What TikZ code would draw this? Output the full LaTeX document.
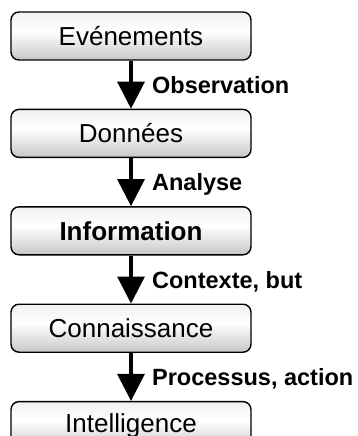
\documentclass[tikz,border=0pt]{standalone}
\usepackage{fontspec}
\setmainfont{Liberation Sans}
\usetikzlibrary{arrows.meta, positioning}

\pgfdeclareverticalshading{stagefill}{100bp}{color(0bp)=(black!30); color(25bp)=(black!22); color(55bp)=(white); color(100bp)=(black!13)}

\tikzset{
    stage/.style={draw=black, line width=1.4pt, rounded corners=8pt,
        shading=stagefill,
        minimum width=240pt, minimum height=48pt, inner sep=0pt,
        font=\fontsize{26}{30}\selectfont},
    flow/.style={line width=3.3pt, -{Triangle[length=27pt,width=27pt]}},
    flowlabel/.style={anchor=base west, inner sep=0pt, xshift=19.5pt, yshift=-8.5pt,
        font=\bfseries\fontsize{23.5}{28}\selectfont}
}

\begin{document}
\begin{tikzpicture}
    % variables
    \pgfmathsetmacro{\vGap}{48}

    \useasboundingbox (0,0) rectangle (358pt,-436pt);

    \node[stage] (evt) at (131pt,-36pt) {Evénements};
    \node[stage, below=\vGap pt of evt] (don) {Données};
    \node[stage, below=\vGap pt of don, font=\bfseries\fontsize{26}{30}\selectfont] (inf) {Information};
    \node[stage, below=\vGap pt of inf] (con) {Connaissance};
    \node[stage, below=\vGap pt of con] (int) {Intelligence};

    \draw[flow] (evt) -- node[flowlabel] {Observation} (don);
    \draw[flow] (don) -- node[flowlabel] {Analyse} (inf);
    \draw[flow] (inf) -- node[flowlabel] {Contexte, but} (con);
    \draw[flow] (con) -- node[flowlabel] {Processus, action} (int);
\end{tikzpicture}
\end{document}
